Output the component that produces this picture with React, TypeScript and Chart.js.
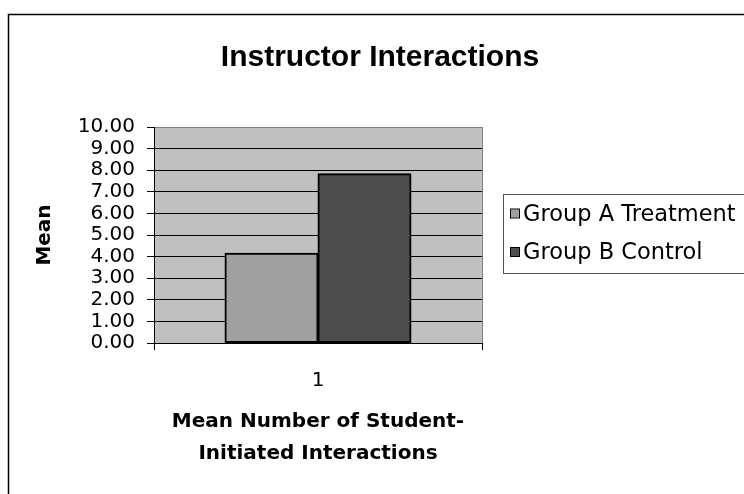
import React, { useEffect, useRef } from 'react';
import { Chart, registerables } from 'chart.js';

Chart.register(...registerables);

// ---- data ----
const chartTitle = 'Instructor Interactions';
const categories = ['1'];
const seriesNames = ['Group A Treatment', 'Group B Control'];
const groupAValues = [4.15];
const groupBValues = [7.83];
const seriesColors = ['#a0a0a0', '#4d4d4d'];
const yAxisTitle = 'Mean';
const xAxisTitle = ['Mean Number of Student-', 'Initiated Interactions'];
const yMin = 0;
const yMax = 10;
const yStep = 1;

const FONT = '"DejaVu Sans", "Liberation Sans", Arial, sans-serif';
const TITLE_FONT = '"Liberation Sans", Arial, sans-serif';

const decorPlugin = {
  id: 'decor',
  beforeDraw(chart: any) {
    const { ctx, chartArea } = chart;
    ctx.save();
    ctx.fillStyle = '#ffffff';
    ctx.fillRect(0, 0, chart.width, chart.height);
    ctx.fillStyle = '#c0c0c0';
    ctx.fillRect(chartArea.left, chartArea.top, chartArea.right - chartArea.left, chartArea.bottom - chartArea.top);
    ctx.restore();
  },
  afterDraw(chart: any) {
    const { ctx } = chart;
    ctx.save();
    // outer frame
    ctx.strokeStyle = '#000000';
    ctx.lineWidth = 1.5;
    ctx.strokeRect(8.5, 14.5, 760, 520);
    // title
    ctx.fillStyle = '#000000';
    ctx.font = 'bold 30px ' + TITLE_FONT;
    ctx.textAlign = 'center';
    ctx.textBaseline = 'alphabetic';
    ctx.fillText(chartTitle, 380, 66);
    // legend
    ctx.strokeStyle = '#555555';
    ctx.lineWidth = 1;
    ctx.strokeRect(503.5, 194.5, 300, 79);
    ctx.font = '22.5px ' + FONT;
    ctx.textAlign = 'left';
    seriesNames.forEach((name, i) => {
      const base = 220.5 + i * 38.5;
      ctx.fillStyle = seriesColors[i];
      ctx.fillRect(511, base - 11, 8, 8);
      ctx.strokeStyle = '#000000';
      ctx.strokeRect(510.5, base - 11.5, 9, 9);
      ctx.fillStyle = '#000000';
      ctx.fillText(name, 523, base);
    });
    ctx.restore();
  },
};

export default function App() {
  const ref = useRef<HTMLCanvasElement | null>(null);
  useEffect(() => {
    if (!ref.current) return;
    const chart = new Chart(ref.current, {
      type: 'bar',
      data: {
        labels: categories,
        datasets: [
          {
            label: seriesNames[0],
            data: groupAValues,
            backgroundColor: seriesColors[0],
            borderColor: '#000000',
            borderWidth: 2,
            borderSkipped: false,
            inflateAmount: 0.5,
          },
          {
            label: seriesNames[1],
            data: groupBValues,
            backgroundColor: seriesColors[1],
            borderColor: '#000000',
            borderWidth: 2,
            borderSkipped: false,
            inflateAmount: 0.5,
          },
        ],
      },
      options: {
        responsive: false,
        animation: false,
        devicePixelRatio: 1,
        datasets: { bar: { barPercentage: 1, categoryPercentage: 0.567 } },
        layout: { padding: { top: 127, right: 262, bottom: 0, left: 0 } },
        plugins: {
          legend: { display: false },
          title: { display: false },
          tooltip: { enabled: false },
        },
        scales: {
          x: {
            type: 'category',
            offset: true,
            grid: {
              display: true,
              offset: true,
              color: (c: any) => (c.index === 0 ? '#000000' : '#808080'),
              tickColor: '#000000',
              tickLength: 7,
              lineWidth: 1,
            },
            border: { display: true, color: '#000000', width: 1 },
            ticks: { color: '#000000', font: { family: FONT, size: 20 }, padding: 19 },
            title: {
              display: true,
              text: xAxisTitle,
              color: '#000000',
              font: { family: FONT, size: 20, weight: 'bold', lineHeight: 1.6 },
              padding: { top: 0, bottom: 24 },
            },
            afterFit: (s: any) => {
              s.height = 151;
            },
          },
          y: {
            min: yMin,
            max: yMax,
            ticks: {
              stepSize: yStep,
              autoSkip: false,
              color: '#000000',
              font: { family: FONT, size: 20, lineHeight: 1 },
              padding: 12,
              callback: (v: any) => Number(v).toFixed(2),
            },
            grid: {
              color: (c: any) => (c.tick && c.tick.value === yMax ? '#808080' : '#000000'),
              tickColor: '#000000',
              tickLength: 7,
              lineWidth: 1,
            },
            border: { display: true, color: '#000000', width: 1 },
            title: {
              display: true,
              text: yAxisTitle,
              color: '#000000',
              font: { family: FONT, size: 20, weight: 'bold', lineHeight: 1.2 },
              padding: { top: 33, bottom: 0 },
            },
            afterFit: (s: any) => {
              s.width = 154;
            },
          },
        },
      },
      plugins: [decorPlugin],
    } as any);
    return () => chart.destroy();
  }, []);
  return (
    <div style={{ position: 'fixed', left: 0, top: 0, width: 744, height: 494, overflow: 'hidden', background: '#fff' }}>
      <canvas ref={ref} width={744} height={494} style={{ display: 'block' }} />
    </div>
  );
}
